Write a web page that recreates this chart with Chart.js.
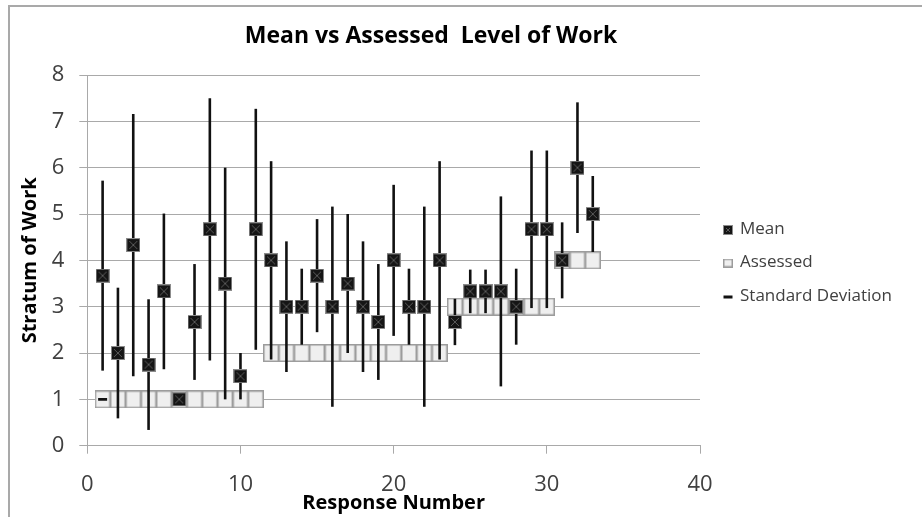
<!DOCTYPE html>
<html>
<head>
<meta charset="utf-8">
<script src="https://cdn.jsdelivr.net/npm/chart.js@4/dist/chart.umd.min.js"></script>
<style>
  html, body { margin: 0; padding: 0; background: #fff; overflow: hidden; }
  #frame { position: absolute; left: 8px; top: 5px; width: 1000px; height: 600px;
           border-left: 2px solid #a9a9a9; border-top: 2px solid #a9a9a9; }
  #wrap { position: absolute; left: 0; top: 0; width: 922px; height: 517px; }
</style>
</head>
<body>
<div id="frame"></div>
<div id="wrap"><canvas id="chart" width="922" height="517"></canvas></div>
<script>
// Survey responses: mean stratum, spread, and the assessed stratum
const responseNo = [1, 2, 3, 4, 5, 6, 7, 8, 9, 10, 11, 12, 13, 14, 15, 16, 17,
                    18, 19, 20, 21, 22, 23, 24, 25, 26, 27, 28, 29, 30, 31, 32, 33];
const meanLevel = [3.67, 2, 4.33, 1.75, 3.33, 1, 2.67, 4.67, 3.5, 1.5, 4.67, 4, 3, 3, 3.67, 3, 3.5,
                   3, 2.67, 4, 3, 3, 4, 2.67, 3.33, 3.33, 3.33, 3, 4.67, 4.67, 4, 6, 5];
const stdDev = [2.05, 1.41, 2.83, 1.41, 1.68, 0, 1.25, 2.83, 2.5, 0.5, 2.6, 2.14, 1.41, 0.82, 1.22, 2.16, 1.5,
                1.41, 1.25, 1.63, 0.82, 2.16, 2.14, 0.5, 0.47, 0.47, 2.05, 0.82, 1.7, 1.7, 0.82, 1.41, 0.82];
const assessedLevel = [1, 1, 1, 1, 1, 1, 1, 1, 1, 1, 1, 2, 2, 2, 2, 2, 2,
                       2, 2, 2, 2, 2, 2, 3, 3, 3, 3, 3, 3, 3, 4, 4, 4];
// lone standard-deviation marker point
const sdMarkX = [1];
const sdMarkY = [1];

const yTicks = [0, 1, 2, 3, 4, 5, 6, 7, 8];
const xTicks = [0, 10, 20, 30, 40];

const chartTitle = 'Mean vs Assessed  Level of Work';
const xTitle = 'Response Number';
const yTitle = 'Stratum of Work';

const FONT = '"Open Sans", "DejaVu Sans", sans-serif';
const TEXT = '#404040';
const GRID = '#a9a9a9';

// marker bitmaps
function meanMarker(w, h) {
  const c = document.createElement('canvas');
  c.width = w; c.height = h;
  const g = c.getContext('2d');
  g.fillStyle = '#151515';
  g.fillRect(0, 0, w, h);
  g.strokeStyle = '#8c8c8c';
  g.lineWidth = 1;
  g.strokeRect(0.5, 0.5, w - 1, h - 1);
  g.strokeStyle = '#5a5a5a';
  g.beginPath();
  g.moveTo(3, 3); g.lineTo(w - 3, h - 3);
  g.moveTo(w - 3, 3); g.lineTo(3, h - 3);
  g.stroke();
  return c;
}
function assessedMarker(w, h) {
  const c = document.createElement('canvas');
  c.width = w; c.height = h;
  const g = c.getContext('2d');
  g.fillStyle = '#efefef';
  g.fillRect(0, 0, w, h);
  g.strokeStyle = '#9c9c9c';
  g.lineWidth = 1.5;
  g.strokeRect(0.75, 0.75, w - 1.5, h - 1.5);
  return c;
}
const meanImg = meanMarker(14, 14);
const assessedImg = assessedMarker(16, 18);

const toPoints = (xs, ys) => xs.map((x, i) => ({ x: x, y: ys[i] }));

// vertical standard-deviation bars, drawn beneath the mean markers
const errorBars = {
  id: 'errorBars',
  beforeDatasetDraw(chart, args) {
    if (chart.data.datasets[args.index].label !== 'Mean') return;
    const { ctx, scales: { x, y } } = chart;
    ctx.save();
    ctx.strokeStyle = '#111';
    ctx.lineWidth = 2.6;
    responseNo.forEach((r, i) => {
      if (!stdDev[i]) return;
      const px = x.getPixelForValue(r);
      ctx.beginPath();
      ctx.moveTo(px, y.getPixelForValue(meanLevel[i] + stdDev[i]));
      ctx.lineTo(px, y.getPixelForValue(meanLevel[i] - stdDev[i]));
      ctx.stroke();
    });
    ctx.restore();
  }
};

// heading and legend on the right
const decorations = {
  id: 'decorations',
  afterDraw(chart) {
    const ctx = chart.ctx;
    ctx.save();
    ctx.fillStyle = '#000';
    ctx.font = 'bold 23px ' + FONT;
    ctx.textAlign = 'center';
    ctx.textBaseline = 'alphabetic';
    ctx.fillText(chartTitle, 431, 43);

    const lx = 728, tx = 740;
    const rows = [230, 263, 297];
    const ds = chart.data.datasets;
    ctx.font = '17px ' + FONT;
    ctx.textAlign = 'left';
    ctx.textBaseline = 'middle';
    ctx.fillStyle = TEXT;
    ds.forEach((d, i) => {
      const yy = rows[i];
      if (d.label === 'Mean') {
        ctx.drawImage(meanMarker(10, 10), lx - 5, yy - 5);
      } else if (d.label === 'Assessed') {
        ctx.drawImage(assessedMarker(10, 9), lx - 5, yy - 4.5);
      } else {
        ctx.fillStyle = '#111';
        ctx.fillRect(lx - 4.5, yy - 1.5, 9, 3);
        ctx.fillStyle = TEXT;
      }
      ctx.fillText(d.label, tx, yy - 1);
    });
    ctx.restore();
  }
};

new Chart(document.getElementById('chart'), {
  type: 'scatter',
  data: {
    datasets: [
      {
        label: 'Mean',
        data: toPoints(responseNo, meanLevel),
        pointStyle: meanImg,
        order: 0
      },
      {
        label: 'Assessed',
        data: toPoints(responseNo, assessedLevel),
        pointStyle: assessedImg,
        order: 3
      },
      {
        label: 'Standard Deviation',
        data: toPoints(sdMarkX, sdMarkY),
        pointStyle: 'line',
        pointRadius: 4.5,
        borderColor: '#111',
        borderWidth: 2.6,
        order: 1
      }
    ]
  },
  options: {
    responsive: false,
    animation: false,
    layout: { padding: { top: 75, right: 222, left: 0, bottom: 0 } },
    plugins: {
      legend: { display: false },
      title: { display: false },
      tooltip: { enabled: false }
    },
    scales: {
      x: {
        type: 'linear',
        min: 0, max: 40,
        afterBuildTicks: s => { s.ticks = xTicks.map(v => ({ value: v })); },
        afterFit: s => { s.height = 71.3; },
        grid: { drawOnChartArea: false, drawTicks: true, tickLength: 8, color: GRID, lineWidth: 1 },
        border: { display: true, color: GRID, width: 1 },
        ticks: { color: TEXT, font: { family: FONT, size: 22 }, padding: 18, maxRotation: 0 },
        title: {
          display: true, text: xTitle, color: '#000',
          font: { family: FONT, size: 20, weight: 'bold' },
          padding: { top: 0, bottom: 2 }
        }
      },
      y: {
        type: 'linear',
        min: 0, max: 8,
        afterBuildTicks: s => { s.ticks = yTicks.map(v => ({ value: v })); },
        afterFit: s => { s.width = 87.3; },
        grid: { color: GRID, lineWidth: 1, drawTicks: true, tickLength: 8 },
        border: { display: true, color: GRID, width: 1 },
        ticks: { color: TEXT, font: { family: FONT, size: 22 }, padding: 15 },
        title: {
          display: true, text: yTitle, color: '#000',
          font: { family: FONT, size: 20, weight: 'bold' },
          padding: { top: 18, bottom: 0 }
        }
      }
    }
  },
  plugins: [errorBars, decorations]
});
</script>
</body>
</html>
